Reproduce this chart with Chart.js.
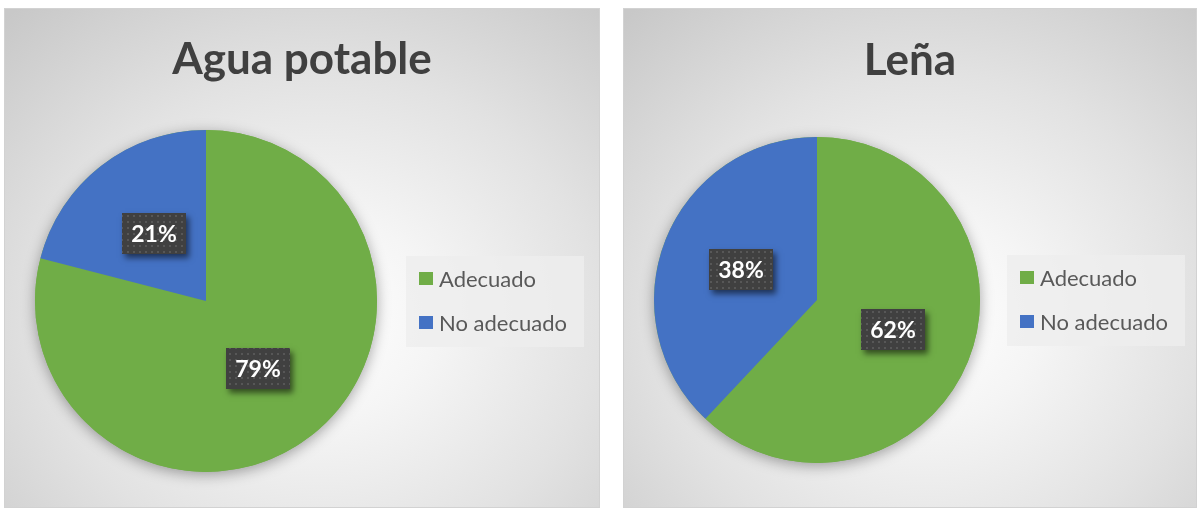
<!DOCTYPE html>
<html><head><meta charset="utf-8">
<script src="https://cdn.jsdelivr.net/npm/chart.js@4.4.1/dist/chart.umd.min.js"></script>
<style>
html,body{margin:0;padding:0;background:#fff;width:1197px;height:508px;overflow:hidden;}
.panel{position:absolute;top:8px;height:500px;box-sizing:border-box;border:1px solid #d2d2d2;
 background: radial-gradient(ellipse 78% 82% at 53% 62%, #ffffff 0%, #f5f5f5 25%, #e2e2e2 60%, #c8c8c8 100%);}
#p1{left:4px;width:596px;}
#p2{left:623px;width:574px;}
canvas{position:absolute;left:0;top:0;}
</style></head>
<body>
<div class="panel" id="p1"><canvas id="c1" width="594" height="498"></canvas></div>
<div class="panel" id="p2"><canvas id="c2" width="572" height="498"></canvas></div>
<script>
const categories = ['Adecuado', 'No adecuado'];
const aguaPotableValues = [79, 21];
const lenaValues = [62, 38];
const chartTitles = ['Agua potable', 'Leña'];
const sliceColors = ['#70AD47', '#4472C4'];

function makeDotPattern(ctx) {
  const t = document.createElement('canvas');
  t.width = 6; t.height = 6;
  const c = t.getContext('2d');
  c.fillStyle = '#404040'; c.fillRect(0, 0, 6, 6);
  c.fillStyle = '#575757'; c.fillRect(2, 2, 2, 2);
  return ctx.createPattern(t, 'repeat');
}

const pieShadowPlugin = {
  id: 'pieShadow',
  beforeDatasetsDraw(chart) {
    const arc = chart.getDatasetMeta(0).data[0];
    if (!arc) return;
    const ctx = chart.ctx;
    ctx.save();
    ctx.shadowColor = 'rgba(0,0,0,0.35)';
    ctx.shadowBlur = 14;
    ctx.shadowOffsetY = 3;
    ctx.fillStyle = sliceColors[0];
    ctx.beginPath();
    ctx.arc(arc.x, arc.y, arc.outerRadius, 0, Math.PI * 2);
    ctx.fill();
    ctx.restore();
  }
};

const dataLabelPlugin = {
  id: 'boxLabels',
  afterDatasetsDraw(chart) {
    const ctx = chart.ctx;
    const ds = chart.data.datasets[0];
    const pattern = makeDotPattern(ctx);
    chart.getDatasetMeta(0).data.forEach((arc, i) => {
      const p = arc.tooltipPosition();
      const w = 64, h = 41;
      const x0 = Math.round(p.x - w / 2), y0 = Math.round(p.y - h / 2);
      ctx.save();
      ctx.shadowColor = 'rgba(0,0,0,0.55)';
      ctx.shadowBlur = 6;
      ctx.shadowOffsetX = 3;
      ctx.shadowOffsetY = 4;
      ctx.fillStyle = '#404040';
      ctx.fillRect(x0, y0, w, h);
      ctx.restore();
      ctx.save();
      ctx.fillStyle = pattern;
      ctx.fillRect(x0, y0, w, h);
      ctx.fillStyle = '#ffffff';
      ctx.font = 'bold 23px Lato';
      ctx.textAlign = 'center';
      ctx.textBaseline = 'middle';
      ctx.fillText(ds.data[i] + '%', x0 + w / 2, y0 + h / 2 + 1);
      ctx.restore();
    });
  }
};

function makeLegendBox(chart, cfg) {
  const box = {
    position: 'right', weight: 100, fullSize: false, options: {},
    left: 0, top: 0, right: 0, bottom: 0, width: 0, height: 0,
    isHorizontal() { return false; },
    update(maxWidth, maxHeight) { this.width = cfg.width; this.height = maxHeight; },
    draw() {
      const ctx = chart.ctx;
      const ca = chart.chartArea;
      const bx = this.left + cfg.bgLeft;
      const by = Math.round((ca.top + ca.bottom) / 2 - 44.5);
      ctx.save();
      ctx.fillStyle = 'rgba(238,238,238,0.8)';
      ctx.fillRect(bx, by, 178, 91);
      ctx.font = '22px Lato';
      ctx.textBaseline = 'middle';
      ctx.textAlign = 'left';
      chart.data.labels.forEach((lab, i) => {
        const cy = by + 23 + i * 44;
        ctx.fillStyle = chart.data.datasets[0].backgroundColor[i];
        ctx.fillRect(bx + 13, cy - 7, 14, 13);
        ctx.fillStyle = '#595959';
        ctx.fillText(lab, bx + 33, cy + 1);
      });
      ctx.restore();
    }
  };
  return box;
}

function legendPlugin(cfg) {
  return {
    id: 'sideLegend',
    beforeInit(chart) {
      const box = makeLegendBox(chart, cfg);
      if (Chart.layouts && Chart.layouts.addBox) Chart.layouts.addBox(chart, box);
      else { chart.boxes = chart.boxes || []; chart.boxes.push(box); }
    }
  };
}

function makePie(canvasId, title, values, titlePad, bottomPad, legendCfg) {
  return new Chart(document.getElementById(canvasId), {
    type: 'pie',
    data: {
      labels: categories,
      datasets: [{ data: values, backgroundColor: sliceColors, borderWidth: 0, hoverOffset: 0 }]
    },
    options: {
      responsive: false,
      animation: false,
      layout: { padding: { left: 30, right: 30, top: 0, bottom: bottomPad } },
      plugins: {
        legend: { display: false },
        tooltip: { enabled: false },
        title: {
          display: true, text: title, color: '#404040',
          font: { family: 'Lato', size: 44, weight: 'bold', lineHeight: 1.2 },
          padding: titlePad
        }
      }
    },
    plugins: [pieShadowPlugin, dataLabelPlugin, legendPlugin(legendCfg)]
  });
}

makePie('c1', chartTitles[0], aguaPotableValues, { top: 24, bottom: 44 }, 35, { width: 192, bgLeft: 29 });
makePie('c2', chartTitles[1], lenaValues, { top: 25, bottom: 50 }, 44, { width: 186, bgLeft: 27 });
</script>
</body></html>
